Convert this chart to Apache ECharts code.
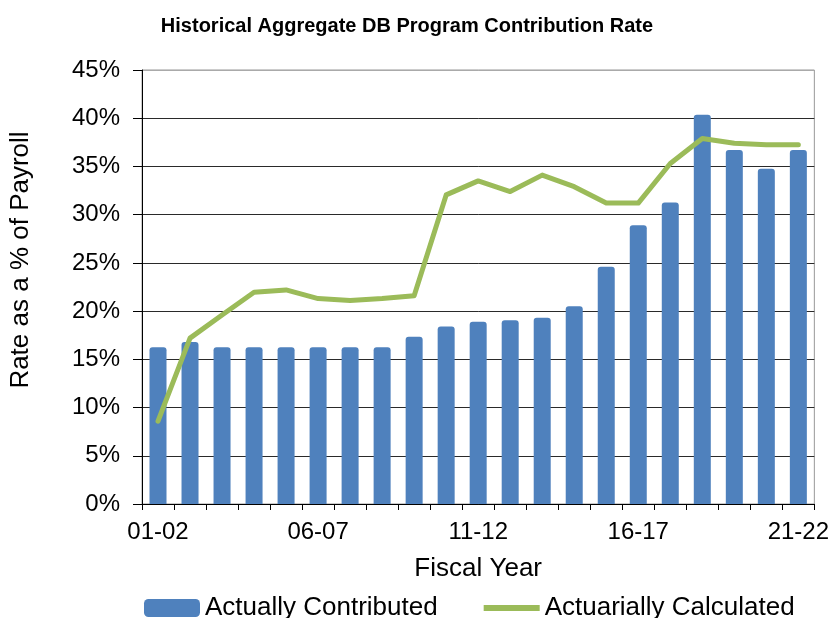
<!DOCTYPE html>
<html>
<head>
<meta charset="utf-8">
<script src="https://cdn.jsdelivr.net/npm/echarts@6/dist/echarts.min.js"></script>
<style>
  html, body { margin: 0; padding: 0; background: #fff; }
  #chart { width: 832px; height: 618px; }
</style>
</head>
<body>
<div id="chart"></div>
<script>
// fiscal years on the x axis
const years = [
  "01-02", "02-03", "03-04", "04-05", "05-06", "06-07", "07-08",
  "08-09", "09-10", "10-11", "11-12", "12-13", "13-14", "14-15",
  "15-16", "16-17", "17-18", "18-19", "19-20", "20-21", "21-22"
];
// rate as % of payroll
const contributed = [
  16.25, 16.8, 16.25, 16.25, 16.25, 16.25, 16.25, 16.25, 17.35, 18.4,
  18.9, 19.05, 19.3, 20.5, 24.6, 28.9, 31.25, 40.35, 36.7, 34.75, 36.7
];
const calculated = [
  8.6, 17.2, 19.6, 21.95, 22.2, 21.3, 21.1, 21.3, 21.6, 32.05,
  33.5, 32.4, 34.1, 32.9, 31.2, 31.2, 35.3, 37.9, 37.4, 37.25, 37.25
];
const yTicks = [0, 5, 10, 15, 20, 25, 30, 35, 40, 45];

const font = "'Liberation Sans', Arial, sans-serif";
// thin stripe in the middle of the legend box (corner dots keep the box size)
const lineIcon = "path://M0,0h0.01v0.01h-0.01z M0,6H56V12H0Z M55.99,17.99h0.01v0.01h-0.01z";

const chart = echarts.init(document.getElementById("chart"));

chart.setOption({
  animation: false,
  title: {
    text: "Historical Aggregate DB Program Contribution Rate",
    left: 402,
    textAlign: "center",
    top: 11,
    textStyle: { fontFamily: font, fontSize: 20, fontWeight: "bold", color: "#000" },
  },
  grid: {
    left: 141, right: 17, top: 70, bottom: 114,
    show: true, borderColor: "#999", borderWidth: 1,
  },
  legend: {
    left: 139,
    top: 590,
    itemWidth: 56,
    itemHeight: 18,
    itemGap: 46,
    textStyle: { fontFamily: font, fontSize: 26, color: "#000" },
    data: [
      { name: "Actually Contributed", icon: "roundRect" },
      { name: "Actuarially Calculated", icon: lineIcon, itemStyle: { color: "#9BBB59" } },
    ],
  },
  xAxis: {
    type: "category",
    data: years,
    name: "Fiscal Year",
    nameLocation: "middle",
    nameGap: 52,
    nameTextStyle: { fontFamily: font, fontSize: 26, color: "#000" },
    axisLine: { lineStyle: { color: "#000", width: 1 } },
    axisTick: { show: true, length: 6, interval: 0, lineStyle: { color: "#000" } },
    axisLabel: {
      interval: 4,
      margin: 16,
      fontFamily: font, fontSize: 24, color: "#000",
    },
  },
  yAxis: {
    type: "value",
    min: 0, max: 45, interval: 5,
    name: "Rate as a % of Payroll",
    nameLocation: "middle",
    nameGap: 108,
    nameTextStyle: { fontFamily: font, fontSize: 26, color: "#000", padding: [0, 0, 0, 54] },
    axisLine: { show: true, lineStyle: { color: "#000", width: 1 } },
    axisTick: { show: true, length: 9, lineStyle: { color: "#000" } },
    axisLabel: {
      margin: 22,
      fontFamily: font, fontSize: 24, color: "#000",
      formatter: (v) => (yTicks.includes(v) ? v + "%" : ""),
    },
    splitLine: {
      lineStyle: {
        color: ["#2a2a2a", "#2a2a2a", "#2a2a2a", "#2a2a2a", "#2a2a2a", "#2a2a2a", "#2a2a2a", "#2a2a2a", "#2a2a2a", "#aaa"],
        width: 1,
      },
    },
  },
  series: [
    {
      name: "Actually Contributed",
      type: "bar",
      data: contributed,
      barWidth: 17,
      itemStyle: { color: "#4F81BD", borderRadius: [3, 3, 0, 0] },
    },
    {
      name: "Actuarially Calculated",
      type: "line",
      data: calculated,
      symbol: "none",
      lineStyle: { color: "#9BBB59", width: 5, cap: "round", join: "round" },
      itemStyle: { color: "#9BBB59" },
    },
  ],
});
</script>
</body>
</html>
